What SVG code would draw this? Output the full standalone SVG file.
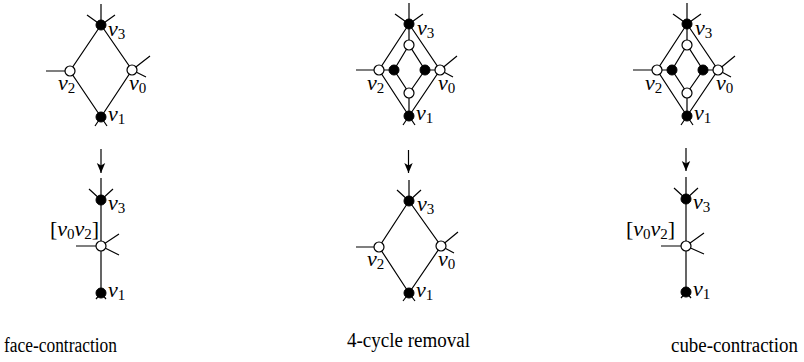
<svg xmlns="http://www.w3.org/2000/svg" width="804" height="362" viewBox="0 0 804 362">
<style>
.e{stroke:#000;stroke-width:1.2;fill:none;stroke-linecap:butt}
.b{fill:#000;stroke:#000;stroke-width:1}
.w{fill:#fff;stroke:#000;stroke-width:1.2}
.m{font-family:"Liberation Serif","DejaVu Serif",serif;font-size:22px;fill:#000}
.i{font-style:italic}
.s{font-size:15px}
.cap{font-family:"Liberation Serif","DejaVu Serif",serif;font-size:20px;fill:#000}
</style>
<defs>
<marker id="ah" viewBox="0 0 10 10" refX="10" refY="5" markerWidth="10" markerHeight="10" markerUnits="userSpaceOnUse" orient="auto">
<path d="M0,0.8 L10,5 L0,9.2 L2.5,5 Z" fill="#000"/>
</marker>
</defs>

<g id="connectors">
<!-- panel 1 top -->
<path class="e" d="M101,25 L70,71 L101,117 L132,70 Z"/>
<path class="e" d="M101,4 L101,25 M87,15 L101,25 M115,15 L101,25 M46,71 L70,71 M132,70 L150,56 M132,70 L146,77 M101,117 L95,126 M101,117 L107,126"/>
<!-- arrow 1 -->
<path class="e" d="M101,149 L101,173" marker-end="url(#ah)"/>
<!-- panel 1 bottom -->
<path class="e" d="M101,178 L101,293 M89,189 L101,200 M113,189 L101,200 M76,246 L101,246 L119,234 M101,246 L119,255 M101,293 L96,299 M101,293 L106,299"/>
<!-- panel 2 top -->
<path class="e" d="M409,24 L379,70 L409,116 L440,70 Z"/>
<path class="e" d="M409,45 L394,70 L409,93 L425,70 Z"/>
<path class="e" d="M409,24 L409,45 M379,70 L394,70 M440,70 L425,70 M409,116 L409,93"/>
<path class="e" d="M409,3 L409,24 M395,14 L409,24 M423,14 L409,24 M356,70 L379,70 M440,70 L457,56 M440,70 L453,77 M409,116 L403,125 M409,116 L415,125"/>
<!-- arrow 2 -->
<path class="e" d="M408.5,150 L408.5,173" marker-end="url(#ah)"/>
<!-- panel 2 bottom -->
<path class="e" d="M409,201 L379,247 L409,293 L441,246 Z"/>
<path class="e" d="M409,180 L409,201 M397,190 L409,201 M421,190 L409,201 M356,247 L379,247 M441,246 L458,232 M441,246 L454,253 M409,293 L403,301 M409,293 L415,301"/>
<!-- panel 3 top -->
<path class="e" d="M687,24 L657,70 L687,116 L718,70 Z"/>
<path class="e" d="M687,45 L672,70 L687,93 L703,70 Z"/>
<path class="e" d="M687,24 L687,45 M657,70 L672,70 M718,70 L703,70 M687,116 L687,93"/>
<path class="e" d="M687,3 L687,24 M673,14 L687,24 M701,14 L687,24 M633,70 L657,70 M718,70 L735,56 M718,70 L731,77 M687,116 L681,125 M687,116 L693,125"/>
<!-- arrow 3 -->
<path class="e" d="M686,148 L686,171" marker-end="url(#ah)"/>
<!-- panel 3 bottom -->
<path class="e" d="M686,177 L686,292 M674,188 L686,199 M698,188 L686,199 M661,246 L686,246 L704,233 M686,246 L704,254 M686,292 L681,298 M686,292 L691,298"/>
</g>

<!-- panel 1 top nodes -->
<g id="p1t-v3"><circle class="b" cx="101" cy="25" r="5"/><text class="m" x="108" y="36"><tspan class="i">v</tspan><tspan class="s" dy="3">3</tspan></text></g>
<g id="p1t-v2"><circle class="w" cx="70" cy="71" r="5"/><text class="m" x="58" y="90"><tspan class="i">v</tspan><tspan class="s" dy="3">2</tspan></text></g>
<g id="p1t-v0"><circle class="w" cx="132" cy="70" r="5"/><text class="m" x="129" y="90"><tspan class="i">v</tspan><tspan class="s" dy="3">0</tspan></text></g>
<g id="p1t-v1"><circle class="b" cx="101" cy="117" r="5"/><text class="m" x="108" y="121"><tspan class="i">v</tspan><tspan class="s" dy="3">1</tspan></text></g>

<!-- panel 1 bottom nodes -->
<g id="p1b-v3"><circle class="b" cx="101" cy="200" r="5"/><text class="m" x="108" y="210"><tspan class="i">v</tspan><tspan class="s" dy="3">3</tspan></text></g>
<g id="p1b-v02"><circle class="w" cx="101" cy="246" r="5"/><text class="m" x="50" y="236">[<tspan class="i">v</tspan><tspan class="s" dy="3">0</tspan><tspan class="i" dy="-3">v</tspan><tspan class="s" dy="3">2</tspan><tspan dy="-3">]</tspan></text></g>
<g id="p1b-v1"><circle class="b" cx="101" cy="293" r="5"/><text class="m" x="108" y="297"><tspan class="i">v</tspan><tspan class="s" dy="3">1</tspan></text></g>

<!-- panel 2 top nodes -->
<g id="p2t-v3"><circle class="b" cx="409" cy="24" r="5"/><text class="m" x="417" y="35"><tspan class="i">v</tspan><tspan class="s" dy="3">3</tspan></text></g>
<g id="p2t-v2"><circle class="w" cx="379" cy="70" r="5"/><text class="m" x="367" y="90"><tspan class="i">v</tspan><tspan class="s" dy="3">2</tspan></text></g>
<g id="p2t-v0"><circle class="w" cx="440" cy="70" r="5"/><text class="m" x="438" y="90"><tspan class="i">v</tspan><tspan class="s" dy="3">0</tspan></text></g>
<g id="p2t-v1"><circle class="b" cx="409" cy="116" r="5"/><text class="m" x="416" y="120"><tspan class="i">v</tspan><tspan class="s" dy="3">1</tspan></text></g>
<g id="p2t-a"><circle class="w" cx="409" cy="45" r="5"/></g>
<g id="p2t-b"><circle class="b" cx="394" cy="70" r="5"/></g>
<g id="p2t-c"><circle class="b" cx="425" cy="70" r="5"/></g>
<g id="p2t-d"><circle class="w" cx="409" cy="93" r="5"/></g>

<!-- panel 2 bottom nodes -->
<g id="p2b-v3"><circle class="b" cx="409" cy="201" r="5"/><text class="m" x="417" y="211"><tspan class="i">v</tspan><tspan class="s" dy="3">3</tspan></text></g>
<g id="p2b-v2"><circle class="w" cx="379" cy="247" r="5"/><text class="m" x="367" y="266"><tspan class="i">v</tspan><tspan class="s" dy="3">2</tspan></text></g>
<g id="p2b-v0"><circle class="w" cx="441" cy="246" r="5"/><text class="m" x="438" y="266"><tspan class="i">v</tspan><tspan class="s" dy="3">0</tspan></text></g>
<g id="p2b-v1"><circle class="b" cx="409" cy="293" r="5"/><text class="m" x="416" y="297"><tspan class="i">v</tspan><tspan class="s" dy="3">1</tspan></text></g>

<!-- panel 3 top nodes -->
<g id="p3t-v3"><circle class="b" cx="687" cy="24" r="5"/><text class="m" x="695" y="35"><tspan class="i">v</tspan><tspan class="s" dy="3">3</tspan></text></g>
<g id="p3t-v2"><circle class="w" cx="657" cy="70" r="5"/><text class="m" x="645" y="90"><tspan class="i">v</tspan><tspan class="s" dy="3">2</tspan></text></g>
<g id="p3t-v0"><circle class="w" cx="718" cy="70" r="5"/><text class="m" x="716" y="90"><tspan class="i">v</tspan><tspan class="s" dy="3">0</tspan></text></g>
<g id="p3t-v1"><circle class="b" cx="687" cy="116" r="5"/><text class="m" x="694" y="120"><tspan class="i">v</tspan><tspan class="s" dy="3">1</tspan></text></g>
<g id="p3t-a"><circle class="w" cx="687" cy="45" r="5"/></g>
<g id="p3t-b"><circle class="b" cx="672" cy="70" r="5"/></g>
<g id="p3t-c"><circle class="b" cx="703" cy="70" r="5"/></g>
<g id="p3t-d"><circle class="w" cx="687" cy="93" r="5"/></g>

<!-- panel 3 bottom nodes -->
<g id="p3b-v3"><circle class="b" cx="686" cy="199" r="5"/><text class="m" x="693" y="209"><tspan class="i">v</tspan><tspan class="s" dy="3">3</tspan></text></g>
<g id="p3b-v02"><circle class="w" cx="686" cy="246" r="5"/><text class="m" x="626" y="236">[<tspan class="i">v</tspan><tspan class="s" dy="3">0</tspan><tspan class="i" dy="-3">v</tspan><tspan class="s" dy="3">2</tspan><tspan dy="-3">]</tspan></text></g>
<g id="p3b-v1"><circle class="b" cx="686" cy="292" r="5"/><text class="m" x="693" y="296"><tspan class="i">v</tspan><tspan class="s" dy="3">1</tspan></text></g>

<!-- captions -->
<text class="cap" x="4" y="352" textLength="113" lengthAdjust="spacingAndGlyphs">face-contraction</text>
<text class="cap" x="347" y="347" textLength="123" lengthAdjust="spacingAndGlyphs">4-cycle removal</text>
<text class="cap" x="671" y="352" textLength="127" lengthAdjust="spacingAndGlyphs">cube-contraction</text>
</svg>
